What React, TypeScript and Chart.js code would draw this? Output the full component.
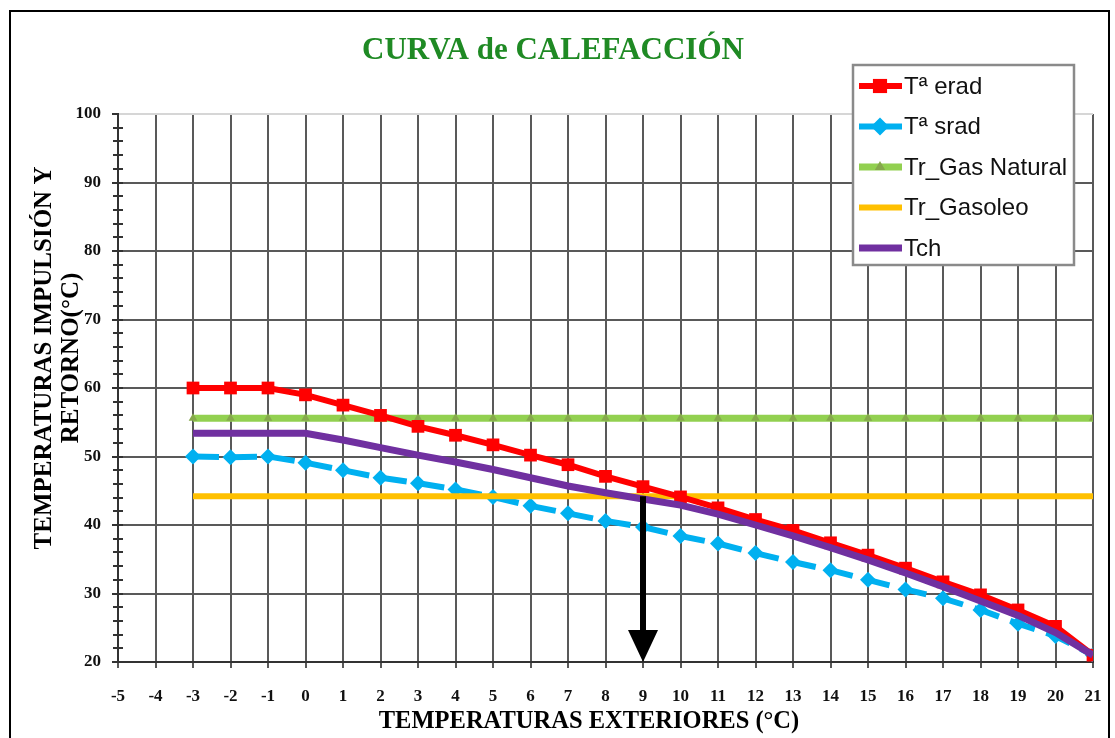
import React, { useEffect, useRef } from "react";
import { Chart, registerables } from "chart.js";

Chart.register(...registerables);

// ---- data ----
const X_VALUES = [-3, -2, -1, 0, 1, 2, 3, 4, 5, 6, 7, 8, 9, 10, 11, 12, 13, 14, 15, 16, 17, 18, 19, 20, 21];
const ERAD = [60, 60, 60, 59, 57.5, 56, 54.4, 53.1, 51.7, 50.2, 48.8, 47.1, 45.6, 44.1, 42.5, 40.8, 39.2, 37.4, 35.6, 33.7, 31.7, 29.8, 27.6, 25.2, 21];
const SRAD = [50, 49.9, 50, 49.1, 48.0, 46.9, 46.1, 45.2, 44.1, 42.8, 41.7, 40.6, 39.7, 38.4, 37.3, 35.9, 34.6, 33.4, 32.0, 30.6, 29.3, 27.6, 25.6, 23.8, 21];
const GAS_NATURAL = [55.6, 55.6, 55.6, 55.6, 55.6, 55.6, 55.6, 55.6, 55.6, 55.6, 55.6, 55.6, 55.6, 55.6, 55.6, 55.6, 55.6, 55.6, 55.6, 55.6, 55.6, 55.6, 55.6, 55.6, 55.6];
const GASOLEO = [44.2, 44.2, 44.2, 44.2, 44.2, 44.2, 44.2, 44.2, 44.2, 44.2, 44.2, 44.2, 44.2, 44.2, 44.2, 44.2, 44.2, 44.2, 44.2, 44.2, 44.2, 44.2, 44.2, 44.2, 44.2];
const TCH = [53.4, 53.4, 53.4, 53.4, 52.4, 51.3, 50.2, 49.2, 48.1, 46.9, 45.7, 44.7, 43.8, 42.9, 41.6, 40.0, 38.4, 36.7, 34.9, 33.0, 31.0, 28.9, 26.8, 24.3, 21];

const SERIES_LABELS = ["Tª erad", "Tª srad", "Tr_Gas Natural", "Tr_Gasoleo", "Tch"];
const TITLE = "CURVA de CALEFACCIÓN";
const X_TITLE = "TEMPERATURAS EXTERIORES (°C)";
const Y_TITLE = ["TEMPERATURAS IMPULSIÓN Y", "RETORNO(°C)"];

const X_MIN = -5;
const X_MAX = 21;
const X_STEP = 1;
const Y_MIN = 20;
const Y_MAX = 100;
const Y_STEP = 10;
const Y_MINOR_STEP = 2;

// arrow marking the design point: from the Tch / Gasoleo crossing down to the axis
const ARROW_X = 9;
const ARROW_Y_FROM = 44.2;
const ARROW_Y_TO = 20;

const W = 1115;
const H = 738;

const SERIF = '"Liberation Serif", "Times New Roman", serif';
const SANS = '"Liberation Sans", Arial, sans-serif';

const toPoints = (ys: number[]) => X_VALUES.map((x, i) => ({ x, y: ys[i] }));

function drawMarker(ctx: CanvasRenderingContext2D, style: string, x: number, y: number, r: number, color: string) {
  ctx.save();
  ctx.fillStyle = color;
  ctx.beginPath();
  if (style === "rect") {
    const s = r * Math.SQRT1_2;
    ctx.rect(x - s, y - s, 2 * s, 2 * s);
  } else if (style === "rectRot") {
    ctx.moveTo(x, y - r);
    ctx.lineTo(x + r, y);
    ctx.lineTo(x, y + r);
    ctx.lineTo(x - r, y);
    ctx.closePath();
  } else if (style === "triangle") {
    ctx.moveTo(x, y - r);
    ctx.lineTo(x + r * 0.866, y + r * 0.5);
    ctx.lineTo(x - r * 0.866, y + r * 0.5);
    ctx.closePath();
  }
  ctx.fill();
  ctx.restore();
}

const decorPlugin = {
  id: "decor",
  beforeDraw(chart: any) {
    const ctx = chart.ctx as CanvasRenderingContext2D;
    ctx.save();
    ctx.fillStyle = "#ffffff";
    ctx.fillRect(0, 0, chart.width, chart.height);
    ctx.strokeStyle = "#000000";
    ctx.lineWidth = 2;
    ctx.strokeRect(10, 11, 1099, chart.height + 20);
    ctx.restore();
  },
  afterDatasetsDraw(chart: any) {
    const ctx = chart.ctx as CanvasRenderingContext2D;
    const xs = chart.scales.x;
    const ys = chart.scales.y;
    const x = xs.getPixelForValue(ARROW_X);
    const y1 = ys.getPixelForValue(ARROW_Y_FROM);
    const y2 = ys.getPixelForValue(ARROW_Y_TO);
    const headH = 32;
    const headW = 15;
    ctx.save();
    ctx.strokeStyle = "#000";
    ctx.fillStyle = "#000";
    ctx.lineWidth = 6;
    ctx.beginPath();
    ctx.moveTo(x, y1);
    ctx.lineTo(x, y2 - headH + 2);
    ctx.stroke();
    ctx.beginPath();
    ctx.moveTo(x - headW, y2 - headH);
    ctx.lineTo(x + headW, y2 - headH);
    ctx.lineTo(x, y2);
    ctx.closePath();
    ctx.fill();
    ctx.restore();
  },
  afterDraw(chart: any) {
    const ctx = chart.ctx as CanvasRenderingContext2D;
    const ys = chart.scales.y;
    const area = chart.chartArea;
    ctx.save();
    // minor ticks on the y axis
    ctx.strokeStyle = "#333";
    ctx.lineWidth = 2;
    for (let v = Y_MIN + Y_MINOR_STEP; v < Y_MAX; v += Y_MINOR_STEP) {
      const y = Math.round(ys.getPixelForValue(v));
      ctx.beginPath();
      ctx.moveTo(area.left - 5, y);
      ctx.lineTo(area.left + 5, y);
      ctx.stroke();
    }

    // chart title
    ctx.fillStyle = "#1f8a24";
    ctx.font = `bold 31px ${SERIF}`;
    ctx.textAlign = "center";
    ctx.textBaseline = "alphabetic";
    ctx.fillText(TITLE, 553, 59);

    // x-axis title
    ctx.fillStyle = "#000";
    ctx.font = `bold 24.5px ${SERIF}`;
    ctx.fillText(X_TITLE, 589, 728);

    // y-axis title (two lines, rotated)
    ctx.font = `bold 25px ${SERIF}`;
    ctx.textBaseline = "middle";
    const yCenters = [45, 72];
    Y_TITLE.forEach((line, i) => {
      ctx.save();
      ctx.translate(yCenters[i], 358);
      ctx.rotate(-Math.PI / 2);
      ctx.fillText(line, 0, 0);
      ctx.restore();
    });

    // legend box
    const lx = 853, ly = 65, lw = 221, lh = 200;
    ctx.fillStyle = "#fff";
    ctx.fillRect(lx, ly, lw, lh);
    ctx.strokeStyle = "#8a8a8a";
    ctx.lineWidth = 2.5;
    ctx.strokeRect(lx, ly, lw, lh);
    ctx.font = `24px ${SANS}`;
    ctx.textAlign = "left";
    ctx.textBaseline = "middle";
    const datasets = chart.data.datasets;
    datasets.forEach((ds: any, i: number) => {
      const cy = 86 + i * 40.5;
      ctx.save();
      ctx.strokeStyle = ds.borderColor;
      ctx.lineWidth = ds.borderWidth;
      ctx.beginPath();
      ctx.moveTo(859, cy);
      ctx.lineTo(902, cy);
      ctx.stroke();
      ctx.restore();
      if (ds.pointRadius > 0) {
        drawMarker(ctx, ds.pointStyle, 880, cy, ds.pointRadius + 1, ds.pointBackgroundColor);
      }
      ctx.fillStyle = "#111";
      ctx.fillText(ds.label, 904, cy + 1);
    });
    ctx.restore();
  },
};

export default function App() {
  const canvasRef = useRef<HTMLCanvasElement | null>(null);

  useEffect(() => {
    const canvas = canvasRef.current;
    if (!canvas) return;
    const chart = new Chart(canvas, {
      type: "line",
      data: {
        datasets: [
          {
            label: SERIES_LABELS[0],
            data: toPoints(ERAD),
            borderColor: "#ff0000",
            backgroundColor: "#ff0000",
            pointBackgroundColor: "#ff0000",
            pointBorderColor: "#ff0000",
            borderWidth: 6,
            pointStyle: "rect",
            pointRadius: 9,
            pointBorderWidth: 0,
            order: 1,
          },
          {
            label: SERIES_LABELS[1],
            data: toPoints(SRAD),
            borderColor: "#00b0f0",
            backgroundColor: "#00b0f0",
            pointBackgroundColor: "#00b0f0",
            pointBorderColor: "#00b0f0",
            borderWidth: 6,
            borderDash: [26, 12],
            pointStyle: "rectRot",
            pointRadius: 8,
            pointBorderWidth: 0,
            order: 3,
          },
          {
            label: SERIES_LABELS[2],
            data: toPoints(GAS_NATURAL),
            borderColor: "#92d050",
            backgroundColor: "#92d050",
            pointBackgroundColor: "#86a84c",
            pointBorderColor: "#86a84c",
            borderWidth: 7,
            pointStyle: "triangle",
            pointRadius: 5,
            pointBorderWidth: 0,
            order: 4,
          },
          {
            label: SERIES_LABELS[3],
            data: toPoints(GASOLEO),
            borderColor: "#ffc000",
            backgroundColor: "#ffc000",
            borderWidth: 6,
            pointRadius: 0,
            order: 2,
          },
          {
            label: SERIES_LABELS[4],
            data: toPoints(TCH),
            borderColor: "#7030a0",
            backgroundColor: "#7030a0",
            borderWidth: 7,
            pointRadius: 0,
            order: 0,
          },
        ],
      },
      options: {
        responsive: false,
        devicePixelRatio: 1,
        animation: false,
        events: [],
        layout: { padding: { top: 114, right: 22, left: 0, bottom: 0 } },
        plugins: {
          legend: { display: false },
          title: { display: false },
          tooltip: { enabled: false },
        },
        scales: {
          x: {
            type: "linear",
            min: X_MIN,
            max: X_MAX,
            afterFit(s: any) {
              s.height = 76;
              s.paddingLeft = 0;
              s.paddingRight = 0;
            },
            ticks: {
              stepSize: X_STEP,
              autoSkip: false,
              maxRotation: 0,
              padding: 18,
              color: "#111",
              font: { family: SERIF, size: 17, weight: "bold" },
            },
            grid: { color: "#595959", lineWidth: 2, tickLength: 6, tickColor: "#595959" },
            border: { color: "#333", width: 2 },
          },
          y: {
            type: "linear",
            min: Y_MIN,
            max: Y_MAX,
            afterFit(s: any) {
              s.width = 118;
              s.paddingTop = 0;
              s.paddingBottom = 0;
            },
            ticks: {
              stepSize: Y_STEP,
              autoSkip: false,
              padding: 11,
              color: "#111",
              font: { family: SERIF, size: 17, weight: "bold" },
            },
            grid: {
              color: (c: any) => (c.tick && c.tick.value === Y_MAX ? "#d6d6d6" : "#595959"),
              lineWidth: 2,
              tickLength: 6,
              tickColor: "#333",
            },
            border: { color: "#333", width: 2 },
          },
        },
      },
      plugins: [decorPlugin],
    } as any);
    return () => chart.destroy();
  }, []);

  return (
    <div style={{ position: "fixed", left: 0, top: 0, width: W, height: H, background: "#fff" }}>
      <canvas ref={canvasRef} width={W} height={H} style={{ display: "block", width: W, height: H }} />
    </div>
  );
}
